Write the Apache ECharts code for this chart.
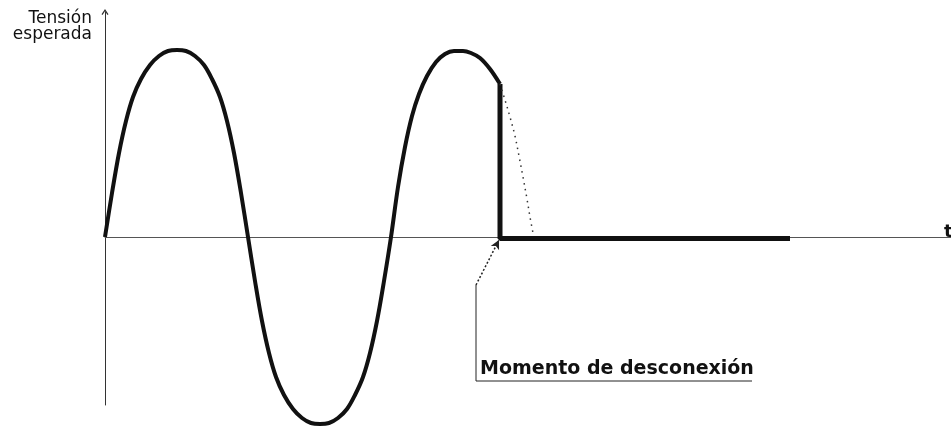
<!DOCTYPE html>
<html>
<head>
<meta charset="utf-8"/>
<script src="https://cdn.jsdelivr.net/npm/echarts@6/dist/echarts.min.js"></script>
<style>
 body{margin:0;background:#fff;}
 #chart{width:951px;height:427px;}
</style>
</head>
<body>
<div id="chart"></div>
<script>
// tension esperada (x: time, y: voltage)
var waveX = [0,7,14,21,28,36,45,54,63,72,81,90,99,107,115,122,129,136,143,
             150,157,164,171,179,188,197,206,215,224,233,242,250,258,265,272,279,286,
             293,300,307,314,322,331,340,349,358,366,375,385,395];
var waveY = [0,44,84,116,140,158,172,181,186,187,186,181,172,158,140,116,84,44,0,
             -44,-84,-116,-140,-158,-172,-181,-186,-187,-186,-181,-172,-158,-140,-116,-84,-44,0,
             50,90,121,143,161,175,183,186,186,184,179,168,153];
// corte: caida vertical y tension nula despues
var cutX = [395,395,685];
var cutY = [153,-1.5,-1.5];
// curva punteada (lo que hubiera seguido)
var fadeX = [395,400,405,410,414,418,422,425,428];
var fadeY = [153,137,120,101,81,60,38,20,4];
// flecha y linea de la anotacion
var ptrX = [371,394];
var ptrY = [-48,-3];
var leadX = [371,371,647];
var leadY = [-48,-144,-144];
var yLabel = 'Tensión\nesperada';
var xLabel = 't';
var noteText = 'Momento de desconexión';

function pairs(xs, ys){
  var out = [];
  for(var i=0;i<xs.length;i++){ out.push([xs[i], ys[i]]); }
  return out;
}

var chart = echarts.init(document.getElementById('chart'));
chart.setOption({
  animation:false,
  backgroundColor:'#fff',
  grid:{left:105, right:0, top:12, bottom:22},
  xAxis:{
    type:'value', min:0, max:846,
    axisLine:{show:true, onZero:true, lineStyle:{color:'#555', width:1}},
    axisTick:{show:false}, axisLabel:{show:false}, splitLine:{show:false}
  },
  yAxis:{
    type:'value', min:-168, max:225,
    axisLine:{show:true, lineStyle:{color:'#333', width:1},
      symbol:['none','path://M0,6 L4,0 L8,6 L6.8,6.8 L4,2.6 L1.2,6.8 Z'], symbolSize:[7,8], symbolOffset:[0,0]},
    axisTick:{show:false}, axisLabel:{show:false}, splitLine:{show:false}
  },
  series:[
    {
      type:'line', data:pairs(waveX, waveY), smooth:0.35, showSymbol:false, clip:false,
      lineStyle:{color:'#111', width:4}
    },
    {
      type:'line', data:pairs(cutX, cutY), showSymbol:false, clip:false,
      lineStyle:{color:'#111', width:5}
    },
    {
      type:'line', data:pairs(fadeX, fadeY), smooth:0.35, showSymbol:false, clip:false,
      lineStyle:{color:'#333', width:1.5, type:[1.5,4.5]}
    },
    {
      type:'line', data:pairs(leadX.slice(1), leadY.slice(1)), showSymbol:false, clip:false,
      lineStyle:{color:'#222', width:1},
      markLine:{
        silent:true, symbol:['none','arrow'], symbolSize:[7,9],
        label:{show:false},
        lineStyle:{color:'#222', width:1.5, type:[2,2]},
        data:[[{coord:[ptrX[0],ptrY[0]]},{coord:[ptrX[1],ptrY[1]]}]]
      }
    },
    {
      type:'line', data:pairs(leadX.slice(0,2), leadY.slice(0,2)), showSymbol:false, clip:false,
      lineStyle:{color:'#222', width:1}
    }
  ]
});

// textos colocados con las escalas del grafico
var p0 = chart.convertToPixel({gridIndex:0}, [0, 225]);
var pt = chart.convertToPixel({gridIndex:0}, [846, 0]);
var pn = chart.convertToPixel({gridIndex:0}, [leadX[1] + 4, leadY[1]]);
chart.setOption({
  graphic:[
    {type:'text', x:p0[0] - 13, y:p0[1] - 1,
     style:{text:yLabel, font:'17px "DejaVu Sans"', fill:'#111', align:'right', verticalAlign:'top', lineHeight:16}},
    {type:'text', x:pt[0] - 7, y:pt[1] + 4,
     style:{text:xLabel, font:'bold 18px "DejaVu Sans"', fill:'#111', align:'left', verticalAlign:'bottom'}},
    {type:'text', x:pn[0], y:pn[1] - 2,
     style:{text:noteText, font:'bold 19px "DejaVu Sans"', fill:'#111', align:'left', verticalAlign:'bottom'}}
  ]
});
</script>
</body>
</html>
